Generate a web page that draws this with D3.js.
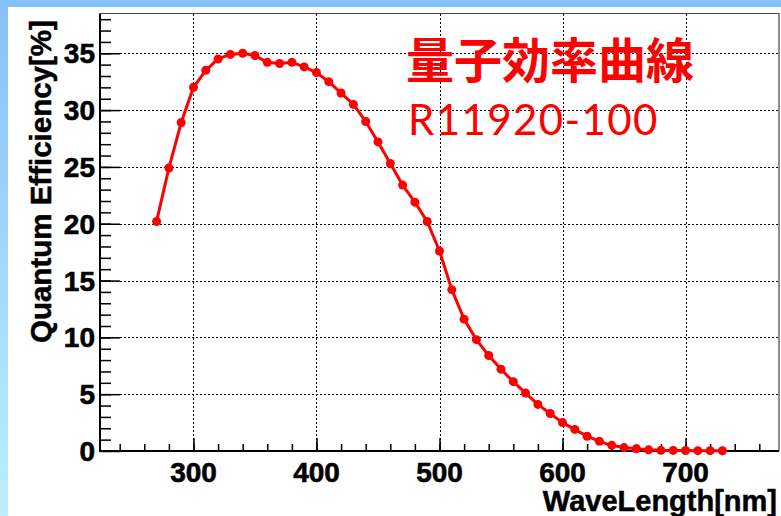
<!DOCTYPE html>
<html>
<head>
<meta charset="utf-8">
<script src="https://cdn.jsdelivr.net/npm/d3@7"></script>
<style>
    body { margin: 0; background: #fff; }
    svg { display: block; font-family: "Liberation Sans", Arial, sans-serif; }
    .grid line { stroke: #000; stroke-width: 1; stroke-dasharray: 2,2; shape-rendering: crispEdges; }
    .tick-label { font-weight: bold; font-size: 28px; fill: #000; stroke: #000; stroke-width: 0.6; }
    .axis-title { font-weight: bold; fill: #000; stroke: #000; stroke-width: 0.5; }
</style>
</head>
<body>
<svg id="svg" width="781" height="516"></svg>
<script>

// Wavelength [nm], one point every 10 nm
var wavelengths = [270, 280, 290, 300, 310, 320, 330, 340, 350, 360,
                   370, 380, 390, 400, 410, 420, 430, 440, 450, 460,
                   470, 480, 490, 500, 510, 520, 530, 540, 550, 560,
                   570, 580, 590, 600, 610, 620, 630, 640, 650, 660,
                   670, 680, 690, 700, 710, 720, 730];

// Quantum efficiency [%]
var efficiency = [20.2, 24.9, 28.9, 32.0, 33.5, 34.5, 34.9, 35.0, 34.8, 34.2,
                  34.1, 34.2, 33.8, 33.3, 32.5, 31.5, 30.5, 29.0, 27.2, 25.3,
                  23.4, 21.9, 20.2, 17.6, 14.2, 11.6, 9.8, 8.4, 7.2, 6.1,
                  5.1, 4.1, 3.3, 2.5, 1.9, 1.3, 0.85, 0.5, 0.3, 0.2,
                  0.1, 0.06, 0.05, 0.04, 0.03, 0.03, 0.02];

var xTickLabels = [300, 400, 500, 600, 700];
var yTickLabels = [0, 5, 10, 15, 20, 25, 30, 35];

var titleText = "量子効率曲線";
var subtitleText = "R11920-100";

var svg = d3.select("#svg");
var defs = svg.append("defs");

// Blue border strip at top and left (slide background)
var grad = defs.append("linearGradient").attr("id", "bg").attr("x1", 0).attr("y1", 0).attr("x2", 0).attr("y2", 1);
grad.append("stop").attr("offset", "0%").attr("stop-color", "#86c0f8");
grad.append("stop").attr("offset", "100%").attr("stop-color", "#bdeeff");
svg.append("rect").attr("x", 0).attr("y", 0).attr("width", 781).attr("height", 516).attr("fill", "url(#bg)");
svg.append("rect").attr("x", 8).attr("y", 7).attr("width", 773).attr("height", 509).attr("fill", "#fff");

//Frame of the plot
var margin = {top: 13.5, right: 779, bottom: 451, left: 100};

var x = d3.scaleLinear().domain([224, 776]).range([margin.left, margin.right]);
var y = d3.scaleLinear().domain([0, 38.5]).range([margin.bottom, margin.top]);

// Dashed grid on the major ticks
var grid = svg.append("g").attr("class", "grid");
grid.selectAll(".gx")
    .data(xTickLabels)
    .enter().append("line")
    .attr("x1", function(d) { return Math.round(x(d)) + 0.5; })
    .attr("x2", function(d) { return Math.round(x(d)) + 0.5; })
    .attr("y1", margin.top).attr("y2", margin.bottom);
grid.selectAll(".gy")
    .data(yTickLabels.filter(function(d) { return d > 0; }))
    .enter().append("line")
    .attr("x1", margin.left).attr("x2", margin.right)
    .attr("y1", function(d) { return Math.round(y(d)) + 0.5; })
    .attr("y2", function(d) { return Math.round(y(d)) + 0.5; });

// Top and right frame edges
svg.append("path")
    .attr("d", "M" + margin.left + "," + margin.top + "H" + margin.right + "V" + margin.bottom)
    .attr("fill", "none").attr("stroke", "#444").attr("stroke-width", 1.2);

// Axes, ticks drawn inside the frame (ROOT style)
var xMinor = d3.range(240, 776, 20);
var yMinor = d3.range(1, 39, 1);

var xAxisMinor = d3.axisTop(x).tickValues(xMinor).tickSize(7).tickFormat("");
var xAxisMajor = d3.axisTop(x).tickValues(xTickLabels).tickSize(13).tickFormat("");
var yAxisMinor = d3.axisRight(y).tickValues(yMinor).tickSize(11).tickFormat("");
var yAxisMajor = d3.axisRight(y).tickValues(yTickLabels).tickSize(20).tickFormat("");

[xAxisMinor, xAxisMajor].forEach(function(ax) {
    svg.append("g").attr("transform", "translate(0," + margin.bottom + ")").call(ax)
        .call(function(g) { g.select(".domain").remove(); })
        .selectAll("line").attr("stroke", "#000").attr("stroke-width", 1.5);
});
[yAxisMinor, yAxisMajor].forEach(function(ax) {
    svg.append("g").attr("transform", "translate(" + margin.left + ",0)").call(ax)
        .call(function(g) { g.select(".domain").remove(); })
        .selectAll("line").attr("stroke", "#000").attr("stroke-width", 1.5);
});

svg.append("line").attr("x1", margin.left).attr("x2", margin.right)
    .attr("y1", margin.bottom).attr("y2", margin.bottom)
    .attr("stroke", "#000").attr("stroke-width", 2);
svg.append("line").attr("x1", margin.left).attr("x2", margin.left)
    .attr("y1", margin.top).attr("y2", margin.bottom + 1)
    .attr("stroke", "#000").attr("stroke-width", 2);

// Tick labels
svg.selectAll(".xl")
    .data(xTickLabels)
    .enter().append("text")
    .attr("class", "tick-label")
    .attr("x", function(d) { return x(d); })
    .attr("y", 482)
    .attr("text-anchor", "middle")
    .text(function(d) { return d; });

svg.selectAll(".yl")
    .data(yTickLabels)
    .enter().append("text")
    .attr("class", "tick-label")
    .attr("x", 95)
    .attr("y", function(d) { return y(d) + 10; })
    .attr("text-anchor", "end")
    .text(function(d) { return d; });

// Axis titles
svg.append("text")
    .attr("class", "axis-title")
    .attr("x", 777).attr("y", 511)
    .attr("text-anchor", "end")
    .attr("font-size", 29)
    .text("WaveLength[nm]");

svg.append("text")
    .attr("class", "axis-title")
    .attr("transform", "translate(51,343) rotate(-90)")
    .attr("font-size", 29.5)
    .text("Quantum Efficiency[%]");

// The data line with markers
var line = d3.line()
    .x(function(d, i) { return x(wavelengths[i]); })
    .y(function(d) { return y(d); });

svg.append("path")
    .datum(efficiency)
    .attr("d", line)
    .attr("fill", "none")
    .attr("stroke", "#ff0000")
    .attr("stroke-width", 3)
    .attr("stroke-linejoin", "round");

svg.append("g").selectAll("circle")
    .data(efficiency)
    .enter().append("circle")
    .attr("cx", function(d, i) { return x(wavelengths[i]); })
    .attr("cy", function(d) { return y(d); })
    .attr("r", 4.5)
    .attr("fill", "#ff0000");

// Title box text
svg.append("text")
    .attr("x", 406).attr("y", 78)
    .attr("font-family", "'Noto Sans CJK JP', sans-serif")
    .attr("font-weight", "bold").attr("font-size", 48)
    .attr("fill", "#ff0000")
    .text(titleText);

svg.append("text")
    .attr("x", 408).attr("y", 135)
    .attr("font-family", "Lato, 'Noto Sans', sans-serif")
    .attr("font-size", 42)
    .attr("letter-spacing", 1.4)
    .attr("fill", "#ff0000")
    .text(subtitleText);

</script>
</body>
</html>
